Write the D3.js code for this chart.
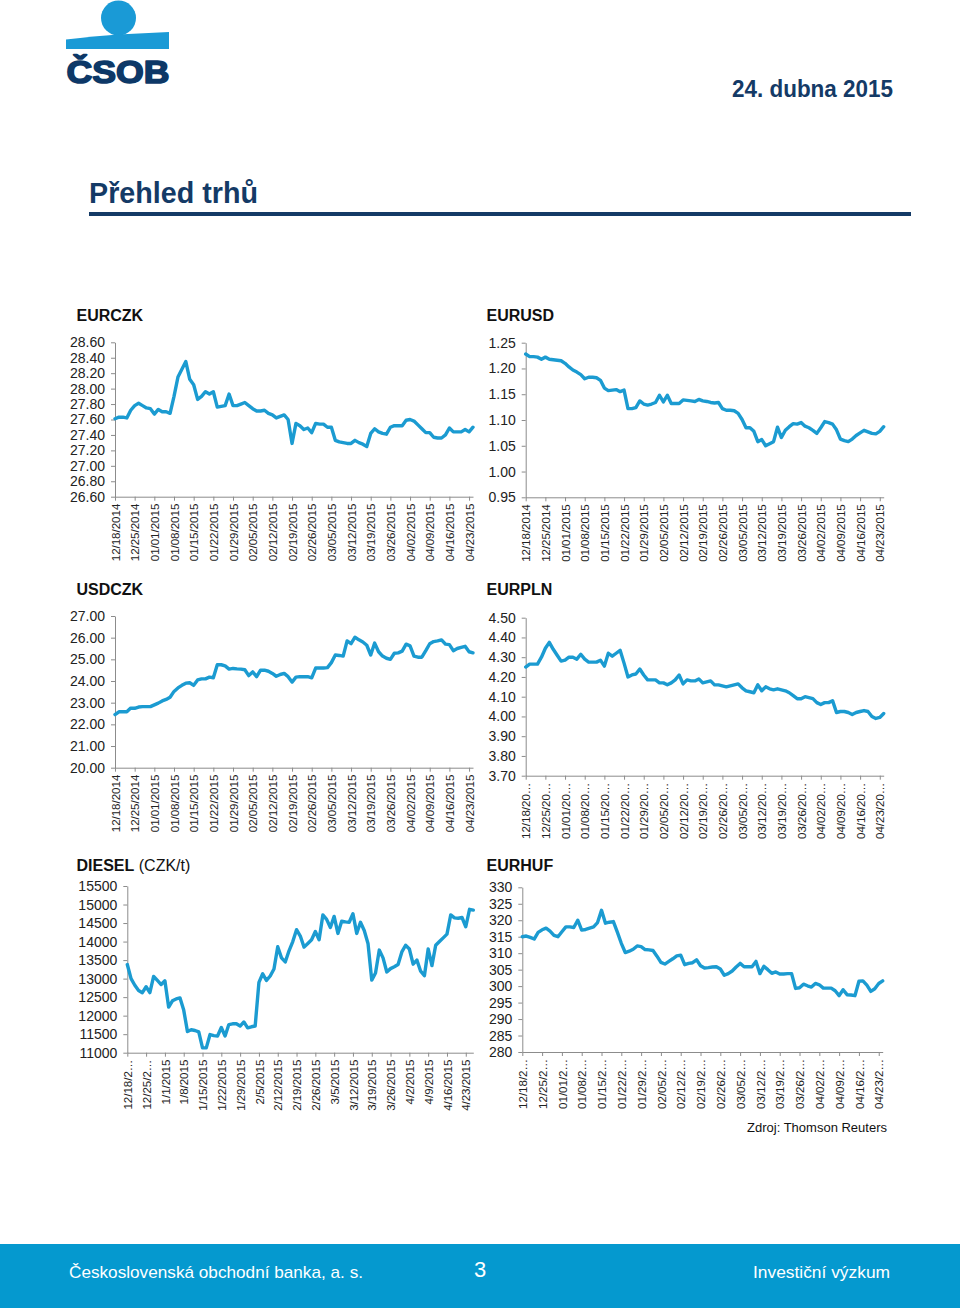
<!DOCTYPE html>
<html><head><meta charset="utf-8">
<script src="https://cdn.jsdelivr.net/npm/d3@7"></script>
<style>body{margin:0;background:#fff}svg{display:block}</style>
</head><body>
<svg id="c" width="960" height="1308"></svg>
<script>
// ---------- tick labels ----------
const labelsA = ["12/18/2014","12/25/2014","01/01/2015","01/08/2015","01/15/2015","01/22/2015","01/29/2015","02/05/2015","02/12/2015","02/19/2015","02/26/2015","03/05/2015","03/12/2015","03/19/2015","03/26/2015","04/02/2015","04/09/2015","04/16/2015","04/23/2015"];
const labelsPLN = ["12/18/20…","12/25/20…","01/01/20…","01/08/20…","01/15/20…","01/22/20…","01/29/20…","02/05/20…","02/12/20…","02/19/20…","02/26/20…","03/05/20…","03/12/20…","03/19/20…","03/26/20…","04/02/20…","04/09/20…","04/16/20…","04/23/20…"];
const labelsHUF = ["12/18/2…","12/25/2…","01/01/2…","01/08/2…","01/15/2…","01/22/2…","01/29/2…","02/05/2…","02/12/2…","02/19/2…","02/26/2…","03/05/2…","03/12/2…","03/19/2…","03/26/2…","04/02/2…","04/09/2…","04/16/2…","04/23/2…"];
const labelsDiesel = ["12/18/2…","12/25/2…","1/1/2015","1/8/2015","1/15/2015","1/22/2015","1/29/2015","2/5/2015","2/12/2015","2/19/2015","2/26/2015","3/5/2015","3/12/2015","3/19/2015","3/26/2015","4/2/2015","4/9/2015","4/16/2015","4/23/2015"];

const ticksEURCZK = [26.6,26.8,27.0,27.2,27.4,27.6,27.8,28.0,28.2,28.4,28.6];
const ticksEURUSD = [0.95,1.00,1.05,1.10,1.15,1.20,1.25];
const ticksUSDCZK = [20,21,22,23,24,25,26,27];
const ticksEURPLN = [3.7,3.8,3.9,4.0,4.1,4.2,4.3,4.4,4.5];
const ticksDIESEL = [11000,11500,12000,12500,13000,13500,14000,14500,15000,15500];
const ticksEURHUF = [280,285,290,295,300,305,310,315,320,325,330];

// ---------- series (business days 12/18/2014 .. 04/24/2015) ----------
const eurczk = [27.61,27.63,27.63,27.62,27.72,27.78,27.81,27.78,27.75,27.74,
 27.67,27.73,27.70,27.70,27.68,27.90,28.15,28.25,28.35,28.12,
 28.05,27.86,27.90,27.96,27.93,27.96,27.76,27.77,27.78,27.93,
 27.78,27.78,27.80,27.82,27.78,27.74,27.71,27.71,27.72,27.68,
 27.66,27.62,27.64,27.66,27.60,27.29,27.55,27.52,27.47,27.49,
 27.43,27.55,27.54,27.54,27.50,27.50,27.33,27.31,27.30,27.29,
 27.29,27.33,27.30,27.28,27.25,27.42,27.48,27.44,27.42,27.41,
 27.50,27.52,27.52,27.52,27.59,27.60,27.58,27.53,27.48,27.43,
 27.43,27.37,27.36,27.36,27.40,27.49,27.44,27.44,27.44,27.47,
 27.44,27.50];
const eurusd = [1.228,1.223,1.223,1.222,1.218,1.222,1.218,1.217,1.216,1.215,
 1.210,1.203,1.197,1.193,1.188,1.180,1.183,1.183,1.182,1.177,
 1.162,1.157,1.158,1.159,1.155,1.158,1.122,1.122,1.124,1.137,
 1.131,1.129,1.131,1.134,1.148,1.135,1.148,1.132,1.132,1.132,
 1.139,1.138,1.137,1.136,1.140,1.137,1.136,1.134,1.133,1.134,
 1.122,1.119,1.119,1.118,1.113,1.101,1.085,1.085,1.078,1.058,
 1.062,1.050,1.054,1.058,1.086,1.066,1.080,1.087,1.093,1.092,
 1.095,1.088,1.085,1.080,1.074,1.085,1.097,1.095,1.092,1.081,
 1.063,1.060,1.058,1.063,1.070,1.075,1.080,1.077,1.074,1.073,
 1.078,1.087];
const usdczk = [22.45,22.58,22.58,22.58,22.75,22.74,22.80,22.82,22.82,22.82,
 22.90,22.98,23.08,23.15,23.25,23.52,23.68,23.80,23.90,23.92,
 23.80,24.05,24.10,24.10,24.18,24.15,24.75,24.75,24.70,24.55,
 24.58,24.56,24.55,24.52,24.25,24.42,24.20,24.50,24.50,24.45,
 24.35,24.22,24.30,24.35,24.20,23.95,24.18,24.20,24.20,24.20,
 24.15,24.60,24.60,24.60,24.62,24.85,25.20,25.18,25.15,25.85,
 25.72,26.02,25.90,25.80,25.65,25.20,25.75,25.35,25.15,25.05,
 25.00,25.28,25.30,25.38,25.70,25.62,25.15,25.10,25.10,25.40,
 25.72,25.82,25.85,25.90,25.70,25.68,25.40,25.50,25.55,25.60,
 25.35,25.30];
const eurpln = [4.250,4.265,4.265,4.265,4.300,4.345,4.375,4.340,4.310,4.280,
 4.285,4.300,4.300,4.290,4.315,4.290,4.275,4.275,4.275,4.285,
 4.255,4.320,4.305,4.320,4.335,4.270,4.200,4.210,4.215,4.240,
 4.210,4.185,4.185,4.185,4.170,4.170,4.160,4.170,4.185,4.210,
 4.165,4.185,4.180,4.180,4.190,4.170,4.175,4.180,4.160,4.160,
 4.155,4.150,4.155,4.160,4.165,4.145,4.130,4.125,4.120,4.160,
 4.130,4.150,4.140,4.135,4.140,4.135,4.130,4.120,4.105,4.090,
 4.090,4.100,4.095,4.090,4.070,4.060,4.070,4.070,4.080,4.020,
 4.025,4.025,4.020,4.010,4.020,4.025,4.030,4.025,4.000,3.990,
 3.995,4.015];
const diesel = [13380,13000,12820,12680,12620,12780,12620,13060,12950,12840,
 12940,12230,12400,12450,12480,12150,11570,11620,11600,11560,
 11130,11130,11490,11460,11450,11680,11450,11760,11780,11780,
 11720,11830,11670,11700,11720,12900,13130,12950,13070,13260,
 13860,13560,13450,13750,14000,14320,14150,13850,13950,14050,
 14270,14050,14720,14600,14380,14680,14220,14550,14530,14520,
 14750,14220,14520,14300,13950,12960,13150,13770,13560,13180,
 13270,13320,13380,13720,13900,13800,13390,13500,13200,13080,
 13800,13350,13900,14000,14100,14200,14720,14640,14630,14650,
 14400,14870,14850];
const eurhuf = [315.0,315.2,314.8,314.3,316.3,317.1,317.6,316.7,315.4,315.0,
 316.5,318.0,318.0,317.8,320.0,317.0,317.2,317.6,318.0,319.3,
 323.0,319.1,319.4,319.6,316.4,313.0,310.2,310.6,311.2,312.2,
 312.0,311.1,311.0,310.8,309.1,307.2,306.7,307.5,308.3,309.2,
 309.4,306.5,306.9,307.1,308.0,306.2,305.5,305.6,305.8,305.9,
 305.2,303.3,303.8,304.6,305.8,306.9,305.9,305.9,305.9,307.5,
 303.8,306.0,305.0,303.9,304.3,303.7,303.7,303.8,303.8,299.3,
 299.5,300.6,300.1,299.7,300.8,300.4,299.4,299.4,299.4,298.6,
 297.1,298.9,297.4,297.3,297.1,301.5,301.6,300.3,298.4,299.2,
 300.8,301.6];

// ---------- drawing ----------
const FONT = "'Liberation Sans', Arial, Helvetica, sans-serif";
const NARROW = "'Liberation Sans Narrow', 'Arial Narrow', 'Liberation Sans', Arial, sans-serif";
const NAVY = "#143a66";
const LINE = "#1b9bd1";
const AXIS = "#8c8c8c";
const svg = d3.select("#c").style("font-family", FONT);

// Header: logo
const logo = svg.append("g");
logo.append("circle").attr("cx", 118.5).attr("cy", 18).attr("r", 17.5).attr("fill", "#1a9ad6");
logo.append("path").attr("d", "M66,39.5 Q95,36 118,34.5 L169,32 L169,49 L66,49 Z").attr("fill", "#1a9ad6");
logo.append("text").attr("x", 66.5).attr("y", 83).attr("font-size", 32).attr("font-weight", 900)
  .attr("fill", "#0d3867").attr("stroke", "#0d3867").attr("stroke-width", 1.6).attr("stroke-linejoin", "round")
  .attr("textLength", 103).attr("lengthAdjust", "spacingAndGlyphs").text("ČSOB");

svg.append("text").attr("x", 893).attr("y", 97).attr("text-anchor", "end")
  .attr("font-family", NARROW).attr("font-size", 23).attr("font-weight", "bold").attr("fill", NAVY)
  .attr("textLength", 161).attr("lengthAdjust", "spacingAndGlyphs").text("24. dubna 2015");

svg.append("text").attr("x", 89).attr("y", 203)
  .attr("font-family", NARROW).attr("font-size", 30).attr("font-weight", "bold").attr("fill", NAVY)
  .attr("textLength", 169).attr("lengthAdjust", "spacingAndGlyphs").text("Přehled trhů");
svg.append("rect").attr("x", 89).attr("y", 212).attr("width", 822).attr("height", 4).attr("fill", NAVY);

const panels = [
  {title:"EURCZK", tx:76.5, ty:320.5, data:eurczk, labels:labelsA, ticks:ticksEURCZK, fmt:".2f", x0:115, x1:473, yT:342.3, yB:496.7},
  {title:"EURUSD", tx:486.5, ty:320.5, data:eurusd, labels:labelsA, ticks:ticksEURUSD, fmt:".2f", x0:525.7, x1:883.7, yT:342.7, yB:497.3},
  {title:"USDCZK", tx:76.5, ty:595, data:usdczk, labels:labelsA, ticks:ticksUSDCZK, fmt:".2f", x0:115, x1:473, yT:616, yB:767.7},
  {title:"EURPLN", tx:486.5, ty:595, data:eurpln, labels:labelsPLN, ticks:ticksEURPLN, fmt:".2f", x0:525.7, x1:883.7, yT:617.7, yB:775.7},
  {title:"DIESEL", sub:" (CZK/t)", tx:76.5, ty:870.5, data:diesel, labels:labelsDiesel, ticks:ticksDIESEL, fmt:"d", x0:127.3, x1:473.3, yT:886, yB:1052.7},
  {title:"EURHUF", tx:486.5, ty:870.5, data:eurhuf, labels:labelsHUF, ticks:ticksEURHUF, fmt:"d", x0:522.3, x1:882.7, yT:887.3, yB:1052}
];

panels.forEach(p => {
  const g = svg.append("g");
  const t = g.append("text").attr("x", p.tx).attr("y", p.ty).attr("font-size", 16).attr("fill", "#111");
  t.append("tspan").attr("font-weight", "bold").text(p.title);
  if (p.sub) t.append("tspan").attr("font-weight", "normal").text(p.sub);

  const x = d3.scaleLinear().domain([0, p.data.length - 1]).range([p.x0, p.x1]);
  const y = d3.scaleLinear().domain([p.ticks[0], p.ticks[p.ticks.length - 1]]).range([p.yB, p.yT]);

  const ya = g.append("g").attr("transform", `translate(${p.x0},0)`)
    .call(d3.axisLeft(y).tickValues(p.ticks).tickFormat(d3.format(p.fmt)).tickSize(4).tickSizeOuter(0).tickPadding(6));
  ya.selectAll("text").attr("font-size", 14).attr("fill", "#222").attr("font-family", FONT);

  const xt = d3.range(0, p.labels.length * 5, 5);
  const xa = g.append("g").attr("transform", `translate(0,${p.yB})`)
    .call(d3.axisBottom(x).tickValues(xt).tickFormat((d, i) => p.labels[i]).tickSize(4).tickSizeOuter(0));
  xa.selectAll("text").attr("font-size", 11.5).attr("fill", "#222").attr("font-family", FONT)
    .attr("transform", "rotate(-90)").attr("text-anchor", "end")
    .attr("x", -7).attr("y", 0).attr("dy", "0.36em");

  [ya, xa].forEach(a => {
    a.select(".domain").attr("stroke", AXIS).attr("stroke-width", 1);
    a.selectAll(".tick line").attr("stroke", AXIS);
  });

  g.append("path").datum(p.data)
    .attr("fill", "none").attr("stroke", LINE).attr("stroke-width", 3.4)
    .attr("stroke-linejoin", "round").attr("stroke-linecap", "round")
    .attr("d", d3.line().x((d, i) => x(i)).y(d => y(d)));
});

svg.append("text").attr("x", 887).attr("y", 1132).attr("text-anchor", "end")
  .attr("font-size", 13).attr("fill", "#111").text("Zdroj: Thomson Reuters");

// Footer
svg.append("rect").attr("x", 0).attr("y", 1244).attr("width", 960).attr("height", 64).attr("fill", "#0599cf");
svg.append("text").attr("x", 69).attr("y", 1278).attr("font-family", NARROW).attr("font-size", 17)
  .attr("fill", "#fff").attr("textLength", 294).attr("lengthAdjust", "spacingAndGlyphs")
  .text("Československá obchodní banka, a. s.");
svg.append("text").attr("x", 480).attr("y", 1277).attr("text-anchor", "middle").attr("font-family", NARROW)
  .attr("font-size", 22).attr("fill", "#fff").text("3");
svg.append("text").attr("x", 890).attr("y", 1278).attr("text-anchor", "end").attr("font-family", NARROW).attr("font-size", 17)
  .attr("fill", "#fff").attr("textLength", 137).attr("lengthAdjust", "spacingAndGlyphs").text("Investiční výzkum");
</script>
</body></html>
